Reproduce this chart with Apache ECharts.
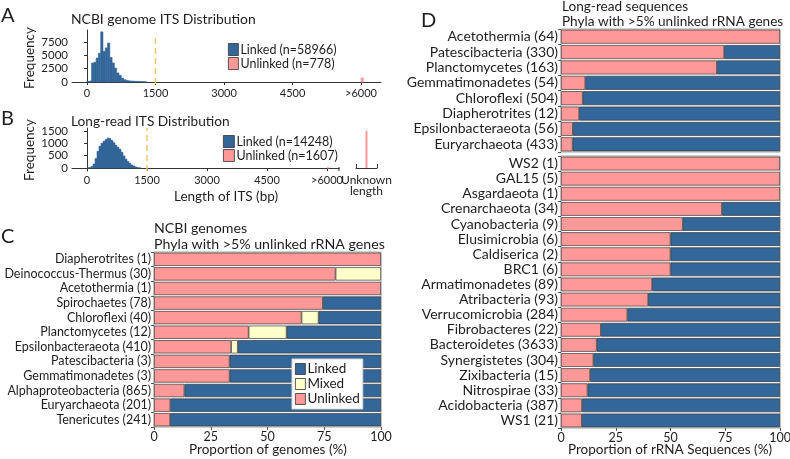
<!DOCTYPE html>
<html><head><meta charset="utf-8">
<script src="https://cdn.jsdelivr.net/npm/echarts@6/dist/echarts.min.js"></script>
<style>html,body{margin:0;padding:0;background:#fff}#c{width:790px;height:459px}</style>
</head><body><div id="c"></div>
<script>
// ---------- data ----------
const binWidthA = 50;
const histA_linked = [120, 180, 3550, 3700, 4500, 5400, 9400, 5750, 6400, 7300, 4600, 3560, 2600, 1700, 1250, 750, 440, 300, 220, 180, 150, 120, 100, 80, 60, 40];
const histA_unlinked = [[6000, 6050, 778]];
const binWidthB = 50;
const histB_linked = [5, 20, 60, 160, 390, 680, 880, 1000, 1080, 1150, 1210, 1190, 1110, 1020, 920, 840, 760, 640, 490, 360, 260, 190, 120, 80, 40, 15, 5];
const histB_unlinked = [[6000, 6050, 12]];
const unknownCats = ['Unknown\nlength'];
const unknownB = [1500];
const xTicksHist = [0, 1500, 3000, 4500, 6000];
const xTickLabelsHist = ['0', '1500', '3000', '4500', '>6000'];
const yTicksA = [0, 2500, 5000, 7500];
const yTicksB = [0, 500, 1000, 1500];
const cutoff = 1500;

const catsC = ['Diapherotrites (1)', 'Deinococcus-Thermus (30)', 'Acetothermia (1)', 'Spirochaetes (78)', 'Chloroflexi (40)', 'Planctomycetes (12)', 'Epsilonbacteraeota (410)', 'Patescibacteria (3)', 'Gemmatimonadetes (3)', 'Alphaproteobacteria (865)', 'Euryarchaeota (201)', 'Tenericutes (241)'];
const unlinkedC = [100, 80, 100, 74.4, 65, 41.7, 34, 33.3, 33.3, 13.4, 7.2, 7.1];
const mixedC = [0, 20, 0, 0, 7.5, 16.7, 2.9, 0, 0, 0, 0, 0];
const linkedC = [0, 0, 0, 25.6, 27.5, 41.6, 63.1, 66.7, 66.7, 86.6, 92.8, 92.9];

const catsD1 = ['Acetothermia (64)', 'Patescibacteria (330)', 'Planctomycetes (163)', 'Gemmatimonadetes (54)', 'Chloroflexi (504)', 'Diapherotrites (12)', 'Epsilonbacteraeota (56)', 'Euryarchaeota (433)'];
const unlinkedD1 = [100, 74.5, 71.2, 11.1, 9.9, 8.3, 5.4, 5.3];
const linkedD1 = [0, 25.5, 28.8, 88.9, 90.1, 91.7, 94.6, 94.7];

const catsD2 = ['WS2 (1)', 'GAL15 (5)', 'Asgardaeota (1)', 'Crenarchaeota (34)', 'Cyanobacteria (9)', 'Elusimicrobia (6)', 'Caldiserica (2)', 'BRC1 (6)', 'Armatimonadetes (89)', 'Atribacteria (93)', 'Verrucomicrobia (284)', 'Fibrobacteres (22)', 'Bacteroidetes (3633)', 'Synergistetes (304)', 'Zixibacteria (15)', 'Nitrospirae (33)', 'Acidobacteria (387)', 'WS1 (21)'];
const unlinkedD2 = [100, 100, 100, 73.5, 55.6, 50, 50, 50, 41.6, 39.8, 30.3, 18.2, 16.3, 14.8, 13.3, 12.1, 9.6, 9.5];
const linkedD2 = [0, 0, 0, 26.5, 44.4, 50, 50, 50, 58.4, 60.2, 69.7, 81.8, 83.7, 85.2, 86.7, 87.9, 90.4, 90.5];

// ---------- style ----------
const FONT = 'Lato';
const BLUE = '#336699', PINK = '#FF9999', YEL = '#FFFFCC', DASH = '#F2C66D';
const TXT = '#1e1e1e', AX = '#333';

const chart = echarts.init(document.getElementById('c'), null, {renderer: 'canvas'});

function histData(counts, w) { return counts.map((c, i) => [i * w, (i + 1) * w, c]); }
function renderHist(params, api) {
  const p0 = api.coord([api.value(0), api.value(2)]);
  const p1 = api.coord([api.value(1), 0]);
  const col = api.visual('color');
  return {type: 'rect', shape: {x: p0[0], y: p0[1], width: p1[0] - p0[0], height: p1[1] - p0[1]},
    style: {fill: col, stroke: col, lineWidth: 0.6}};
}
const tickLbl = {fontSize: 11, color: TXT, fontFamily: FONT, margin: 4};
function histX(grid, min, max) {
  return {type: 'value', gridIndex: grid, min: min, max: max,
    axisLine: {show: true, lineStyle: {color: AX, width: 1}},
    axisTick: {show: true, customValues: xTicksHist, length: 3, lineStyle: {color: AX}},
    axisLabel: Object.assign({customValues: xTicksHist,
      formatter: v => xTickLabelsHist[xTicksHist.indexOf(v)]}, tickLbl),
    splitLine: {show: false}};
}
function histY(grid, min, max, ticks) {
  return {type: 'value', gridIndex: grid, min: min, max: max,
    axisLine: {show: true, lineStyle: {color: AX, width: 1}},
    axisTick: {show: true, customValues: ticks, length: 3, lineStyle: {color: AX}},
    axisLabel: Object.assign({customValues: ticks, formatter: v => String(v)}, tickLbl, {fontSize: 11.5}),
    splitLine: {show: false}};
}
function pctX(grid, show) {
  return {type: 'value', gridIndex: grid, min: 0, max: 100, interval: 25, show: show,
    axisLine: {show: false}, axisTick: {show: true, length: 3, lineStyle: {color: '#555'}},
    axisLabel: Object.assign({}, tickLbl, {fontSize: 12.5, margin: 3}), splitLine: {show: false}};
}
function catY(grid, cats, size) {
  return {type: 'category', gridIndex: grid, data: cats, inverse: true,
    axisLine: {show: false}, axisTick: {show: true, length: 3, interval: 0, lineStyle: {color: '#555'}},
    axisLabel: Object.assign({}, tickLbl, {fontSize: size, margin: 3, interval: 0}), splitLine: {show: false}};
}
function stackBar(name, data, color, grid, stack) {
  return {type: 'bar', name: name, data: data.map(v => v === 0 ? null : v), stack: stack,
    xAxisIndex: grid, yAxisIndex: grid,
    barCategoryGap: '9%', itemStyle: {color: color, borderColor: '#3a3a3a', borderWidth: 0.7},
    emphasis: {disabled: true}};
}
function txt(x, y, s, size, opts) {
  return Object.assign({type: 'text', x: x, y: y, style: Object.assign({text: s, fontSize: size,
    fontFamily: FONT, fill: TXT, align: 'left', verticalAlign: 'middle'}, (opts || {}).style || {})},
    (opts || {}).el || {});
}
const gridBase = {containLabel: false, outerBoundsMode: 'none'};
const frame = {show: true, borderColor: '#a0a0a0', borderWidth: 1, backgroundColor: 'transparent'};

const option = {
  animation: false,
  textStyle: {fontFamily: FONT},
  grid: [
    Object.assign({left: 72, top: 30, width: 309, height: 54}, gridBase),
    Object.assign({left: 72, top: 128, width: 267, height: 43}, gridBase),
    Object.assign({left: 356, top: 128, width: 21, height: 43}, gridBase),
    Object.assign({left: 154, top: 252, width: 227, height: 175}, gridBase, frame),
    Object.assign({left: 561, top: 29, width: 219, height: 123}, gridBase, frame),
    Object.assign({left: 561, top: 156, width: 219, height: 272}, gridBase, frame)
  ],
  xAxis: [
    histX(0, -328, 6437),
    histX(1, -375, 6300),
    {type: 'category', gridIndex: 2, data: unknownCats, boundaryGap: true,
      axisLine: {show: true, lineStyle: {color: AX}},
      axisTick: {show: true, inside: true, length: 4, lineStyle: {color: AX}},
      axisLabel: Object.assign({}, tickLbl, {fontSize: 12, lineHeight: 11, interval: 0})},
    pctX(3, true), pctX(4, false), pctX(5, true)
  ],
  yAxis: [
    histY(0, -375, 9750, yTicksA),
    histY(1, -120, 1620, yTicksB),
    {type: 'value', gridIndex: 2, min: -120, max: 1620, show: false},
    catY(3, catsC, 12.5), catY(4, catsD1, 14), catY(5, catsD2, 14)
  ],
  legend: [
    {left: 228, top: 43, orient: 'vertical', itemWidth: 10, itemHeight: 12, itemGap: 1, padding: 0,
      icon: 'rect', data: ['Linked (n=58966)', 'Unlinked (n=778)'],
      itemStyle: {borderColor: '#333', borderWidth: 0.8},
      textStyle: {fontSize: 12.5, color: TXT, fontFamily: FONT, lineHeight: 12, padding: [0, 0, 0, -3]}},
    {left: 223, top: 135, orient: 'vertical', itemWidth: 11, itemHeight: 12, itemGap: 1, padding: 0,
      icon: 'rect', data: ['Linked (n=14248)', 'Unlinked (n=1607)'],
      itemStyle: {borderColor: '#333', borderWidth: 0.8},
      textStyle: {fontSize: 12.5, color: TXT, fontFamily: FONT, lineHeight: 12, padding: [0, 0, 0, -3]}},
    {left: 292, top: 359, orient: 'vertical', itemWidth: 10, itemHeight: 11, itemGap: 1, padding: [3, 3, 3, 3],
      icon: 'rect', data: ['Linked', 'Mixed', 'Unlinked'], backgroundColor: '#fff',
      borderColor: '#d8d8d8', borderWidth: 1,
      itemStyle: {borderColor: '#333', borderWidth: 0.8},
      textStyle: {fontSize: 13.5, color: TXT, fontFamily: FONT, lineHeight: 12, padding: [0, 0, 0, -3]}}
  ],
  series: [
    {type: 'custom', name: 'Linked (n=58966)', xAxisIndex: 0, yAxisIndex: 0, renderItem: renderHist,
      itemStyle: {color: BLUE}, data: histData(histA_linked, binWidthA)},
    {type: 'custom', name: 'Unlinked (n=778)', xAxisIndex: 0, yAxisIndex: 0, renderItem: renderHist,
      itemStyle: {color: PINK}, data: histA_unlinked},
    {type: 'line', xAxisIndex: 0, yAxisIndex: 0, symbol: 'none', silent: true,
      lineStyle: {color: DASH, width: 1.5, type: [6, 4]}, data: [[cutoff, -375], [cutoff, 8900]]},
    {type: 'custom', name: 'Linked (n=14248)', xAxisIndex: 1, yAxisIndex: 1, renderItem: renderHist,
      itemStyle: {color: BLUE}, data: histData(histB_linked, binWidthB)},
    {type: 'custom', name: 'Unlinked (n=1607)', xAxisIndex: 1, yAxisIndex: 1, renderItem: renderHist,
      itemStyle: {color: PINK}, data: histB_unlinked},
    {type: 'line', xAxisIndex: 1, yAxisIndex: 1, symbol: 'none', silent: true,
      lineStyle: {color: DASH, width: 1.5, type: [6, 4]}, data: [[cutoff, -120], [cutoff, 1620]]},
    {type: 'bar', name: 'Unlinked (n=1607)', xAxisIndex: 2, yAxisIndex: 2, barWidth: 2,
      itemStyle: {color: PINK}, data: unknownB},
    stackBar('Unlinked', unlinkedC, PINK, 3, 'c'),
    stackBar('Mixed', mixedC, YEL, 3, 'c'),
    stackBar('Linked', linkedC, BLUE, 3, 'c'),
    stackBar('Unlinked', unlinkedD1, PINK, 4, 'd1'),
    stackBar('Linked', linkedD1, BLUE, 4, 'd1'),
    stackBar('Unlinked', unlinkedD2, PINK, 5, 'd2'),
    stackBar('Linked', linkedD2, BLUE, 5, 'd2')
  ],
  graphic: [
    txt(1, 16, 'A', 20),
    txt(1, 119, 'B', 20),
    txt(1, 237, 'C', 20),
    txt(421, 21, 'D', 20),
    txt(71, 20, 'NCBI genome ITS Distribution', 13.9),
    txt(71, 122, 'Long-read ITS Distribution', 13.7),
    txt(154, 228, 'NCBI genomes', 14.2),
    txt(154, 244, 'Phyla with >5% unlinked rRNA genes', 14.2),
    txt(562, 7, 'Long-read sequences', 13.6),
    txt(562, 22, 'Phyla with >5% unlinked rRNA genes', 13.6),
    txt(30, 58, 'Frequency', 13.5, {style: {align: 'center'}, el: {rotation: Math.PI / 2}}),
    txt(30, 150, 'Frequency', 13.5, {style: {align: 'center'}, el: {rotation: Math.PI / 2}}),
    txt(226, 197, 'Length of ITS (bp)', 13.5, {style: {align: 'center'}}),
    txt(268, 450, 'Proportion of genomes (%)', 13.5, {style: {align: 'center'}}),
    txt(670, 450, 'Proportion of rRNA Sequences (%)', 13.5, {style: {align: 'center'}}),
    {type: 'line', shape: {x1: 339, y1: 167, x2: 339, y2: 171}, style: {stroke: AX, lineWidth: 1}}
  ]
};
chart.setOption(option);
</script></body></html>
